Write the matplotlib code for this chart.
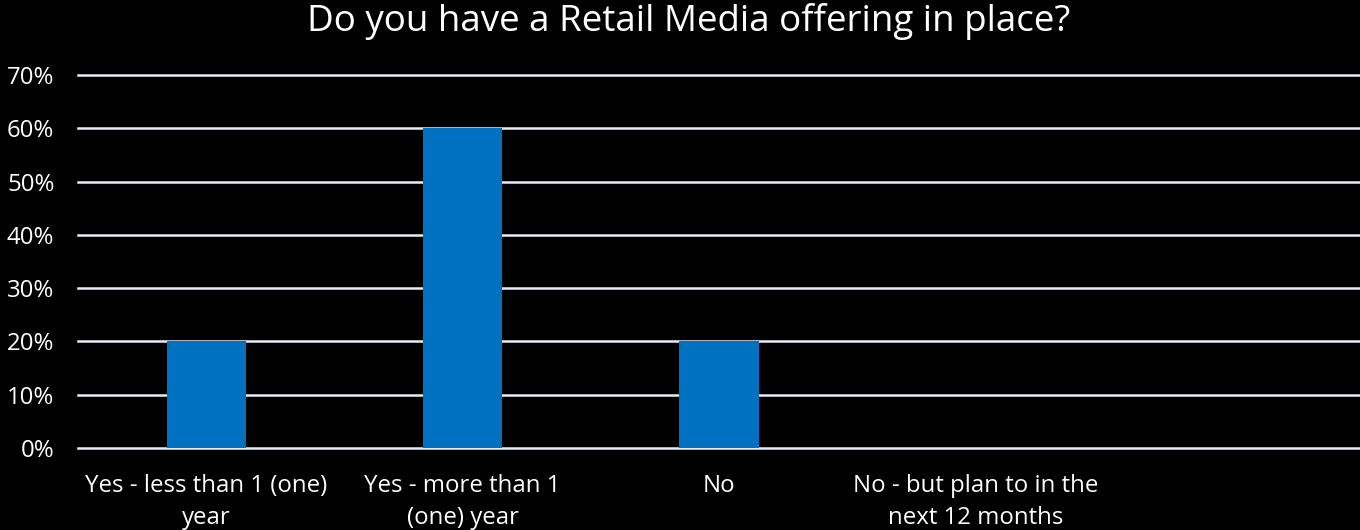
import matplotlib
matplotlib.use("Agg")
import matplotlib.pyplot as plt
from matplotlib.ticker import PercentFormatter

plt.rcParams['font.family'] = ['Open Sans', 'DejaVu Sans']

categories = ["Yes - less than 1 (one)\nyear", "Yes - more than 1\n(one) year", "No",
              "No - but plan to in the\nnext 12 months", ""]
shares = [0.20, 0.60, 0.20, 0.0, 0.0]
yticks = [0, 0.1, 0.2, 0.3, 0.4, 0.5, 0.6, 0.7]

fig = plt.figure(figsize=(13.6, 5.3), dpi=100, facecolor="black")
ax = fig.add_axes([0.0574, 0.1547, 0.9426, 0.7038], facecolor="black")

x = list(range(len(categories)))
ax.bar(x, shares, width=0.31, color="#0070C0", zorder=3)

ax.set_xlim(-0.5, len(categories) - 0.5)
ax.set_ylim(0, 0.7)
ax.set_yticks(yticks)
ax.yaxis.set_major_formatter(PercentFormatter(1.0, decimals=0))
ax.grid(axis="y", color="#E3EEF8", linewidth=1.8, zorder=0)
for gl in ax.get_ygridlines():
    gl.set_clip_on(False)

ax.set_xticks(x)
ax.set_xticklabels(categories, color="white", fontsize=17.3, linespacing=1.4)
ax.tick_params(axis="y", colors="white", labelsize=17.3, length=0, pad=17)
ax.tick_params(axis="x", length=0, pad=19)
for side in ax.spines.values():
    side.set_visible(False)

fig.suptitle("Do you have a Retail Media offering in place?", color="white",
             fontsize=26.5, x=0.506, y=0.995, va="top")

fig.savefig("out.png", dpi=100, facecolor="black")
